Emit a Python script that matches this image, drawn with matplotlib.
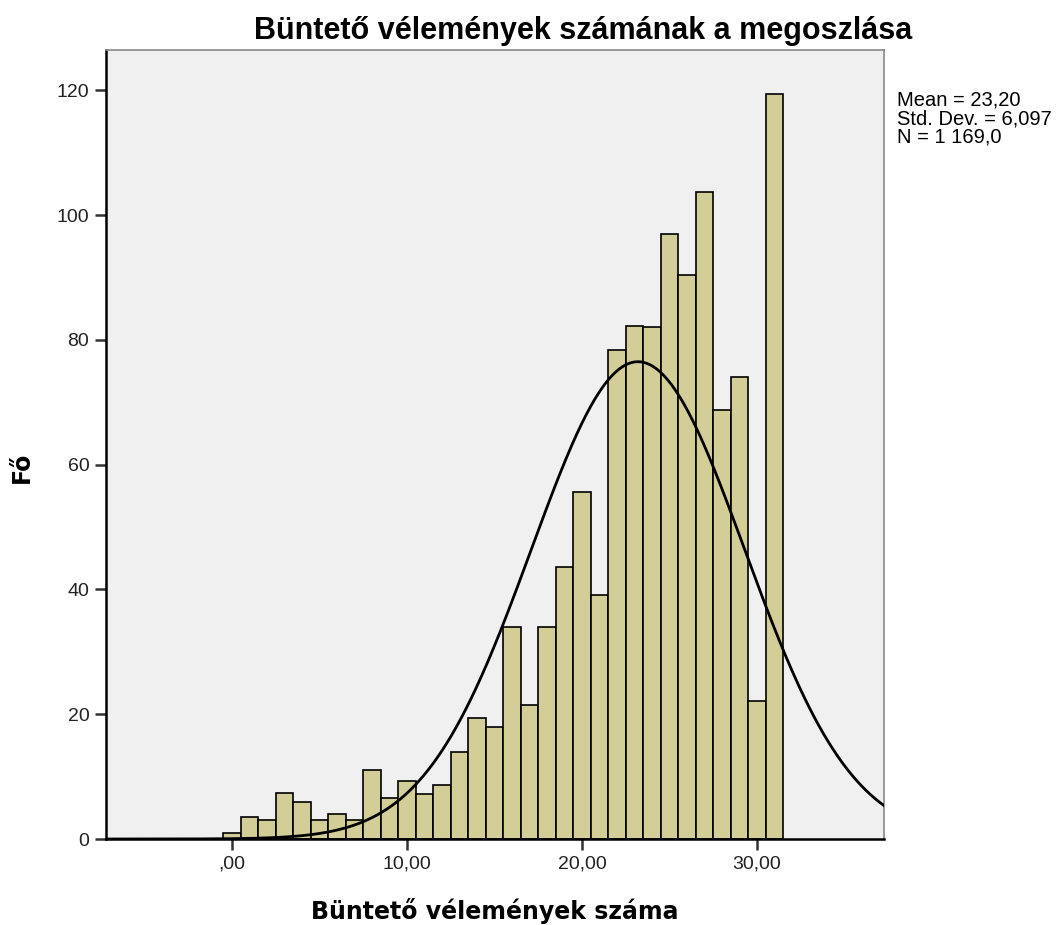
import numpy as np
import matplotlib
matplotlib.use('Agg')
import matplotlib.pyplot as plt

# bin centres (width 1) and counts
bins = np.arange(0, 32)
counts = [1.0, 3.5, 3.0, 7.3, 6.0, 3.0, 4.0, 3.0, 11.0, 6.5, 9.3, 7.2,
          8.6, 14.0, 19.4, 18.0, 34.0, 21.4, 34.0, 43.6, 55.6, 39.1, 78.4, 82.2,
          82.0, 97.0, 90.4, 103.7, 68.8, 74.0, 22.1, 119.4]

mean = 23.20
sd = 6.097
n = 1169.0

x_ticks = [0, 10, 20, 30]
x_tick_labels = [',00', '10,00', '20,00', '30,00']
y_ticks = [0, 20, 40, 60, 80, 100, 120]

fig = plt.figure(figsize=(10.59, 9.25), dpi=100)
ax = fig.add_axes([106/1059, 1 - 839/925, (884-106)/1059, (839-50)/925])
ax.set_facecolor('#F0F0F0')

ax.bar(bins, counts, width=1.0, color='#D3CE98', edgecolor='black', linewidth=1.2, zorder=2)

xmin, xmax = -7.2, 37.26
xs = np.linspace(xmin, xmax, 500)
ys = n * 1.0 / (sd * np.sqrt(2 * np.pi)) * np.exp(-0.5 * ((xs - mean) / sd) ** 2)
ax.plot(xs, ys, color='black', linewidth=2, zorder=3)

ax.set_xlim(xmin, xmax)
ax.set_ylim(0, (839-50)/6.24)
ax.set_xticks(x_ticks)
ax.set_xticklabels(x_tick_labels)
ax.set_yticks(y_ticks)
ax.tick_params(axis='both', direction='out', length=8, width=1.8, color='#333333',
               labelsize=14, labelcolor='#222222', pad=4)
for lab in ax.get_xticklabels() + ax.get_yticklabels():
    lab.set_family('Liberation Sans')

for s in ['top', 'right']:
    ax.spines[s].set_color('#888888')
    ax.spines[s].set_linewidth(1.2)
for s in ['left', 'bottom']:
    ax.spines[s].set_color('black')
    ax.spines[s].set_linewidth(1.8)

ax.set_xlabel('Büntető vélemények száma', fontsize=17, fontweight='bold',
              family='DejaVu Sans', labelpad=18)
ax.set_ylabel('Fő', fontsize=17, fontweight='bold', family='DejaVu Sans')
ax.yaxis.set_label_coords(-0.093, 0.471)

fig.text(583/1059, 1 - 31/925, 'Büntető vélemények számának a megoszlása',
         ha='center', va='center', fontsize=22, fontweight='bold', family='Liberation Sans')

fig.text(897/1059, 1 - 91/925,
         'Mean = 23,20\nStd. Dev. = 6,097\nN = 1 169,0',
         ha='left', va='top', fontsize=14.5, family='Liberation Sans', linespacing=0.96)

fig.savefig('out.png', dpi=100)
